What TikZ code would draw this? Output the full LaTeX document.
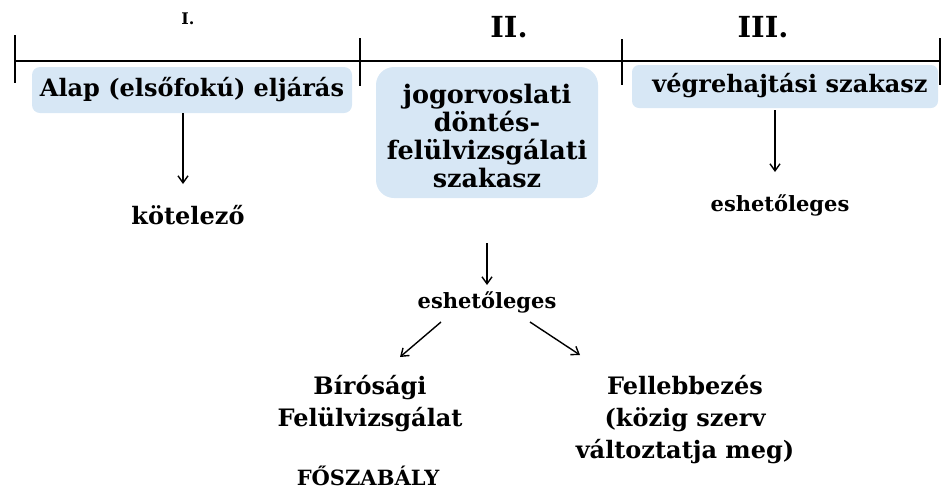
\documentclass[tikz,border=0pt]{standalone}
\usepackage{fontspec}
\setmainfont{DejaVu Serif}
\usetikzlibrary{arrows.meta}
\definecolor{boxblue}{HTML}{D7E7F5}
\tikzset{
  lbl/.style={font=\bfseries\fontsize{24}{32}\selectfont, inner sep=0pt, align=center},
  lblsmall/.style={font=\bfseries\fontsize{21}{28}\selectfont, inner sep=0pt, align=center},
  lblbox/.style={font=\bfseries\fontsize{25.5}{28}\selectfont, inner sep=0pt, align=center},
  roman/.style={font=\bfseries\fontsize{29}{30}\selectfont, inner sep=0pt},
  bluebox/.style={fill=boxblue, draw=none},
  tick/.style={line width=2.6pt},
  arr/.style={line width=1.4pt, -{Straight Barb[length=7pt,width=10pt,line width=1.4pt]}},
}
\begin{document}
\begin{tikzpicture}[x=1pt,y=-1pt]
\useasboundingbox (0,0) rectangle (941,491);
% boxes
\fill[bluebox, rounded corners=8pt] (32,67) rectangle (352,113);
\fill[bluebox, rounded corners=18pt] (376,67) rectangle (598,198);
\fill[bluebox, rounded corners=7pt] (632,65) rectangle (938,108);
% timeline
\draw[line width=2.6pt] (15,61) -- (940,61);
\draw[tick] (15,35) -- (15,83);
\draw[tick] (360,38) -- (360,86);
\draw[tick] (622,39) -- (622,85);
\draw[tick] (940,38) -- (940,85);
% roman numerals
\node[font=\bfseries\fontsize{16}{18}\selectfont, inner sep=0pt] (r1) at (188,19) {I.};
\node[roman] (r2) at (509,27) {II.};
\node[roman] (r3) at (763,27) {III.};
% box texts
\node[lbl] (b1) at (192,90) {Alap (elsőfokú) eljárás};
\node[lblbox] (b2) at (487,136) {jogorvoslati\\döntés-\\felülvizsgálati\\szakasz};
\node[lbl] (b3) at (790,86) {végrehajtási szakasz};
% lower texts
\node[lbl] (kot) at (188,215) {kötelező};
\node[lblsmall] (esh3) at (780,205) {eshetőleges};
\node[lblsmall] (esh2) at (487,302) {eshetőleges};
\node[lbl] (bir) at (370,404) {Bírósági\\Felülvizsgálat};
\node[lblsmall] (fo) at (368,476) {FŐSZABÁLY};
\node[lbl] (fel) at (685,420) {Fellebbezés\\(közig szerv\\változtatja meg)};
% arrows
\coordinate (k1) at (183,113);
\coordinate (k2) at (183,184);
\draw[arr] (k1) -- (k2);
\coordinate (e1) at (487,243);
\coordinate (e2) at (487,285);
\draw[arr] (e1) -- (e2);
\coordinate (v1) at (775,110);
\coordinate (v2) at (775,172);
\draw[arr] (v1) -- (v2);
\coordinate (l1) at (441,322);
\coordinate (l2) at (400,357);
\draw[arr] (l1) -- (l2);
\coordinate (rr1) at (530,322);
\coordinate (rr2) at (580,355);
\draw[arr] (rr1) -- (rr2);
\end{tikzpicture}
\end{document}
